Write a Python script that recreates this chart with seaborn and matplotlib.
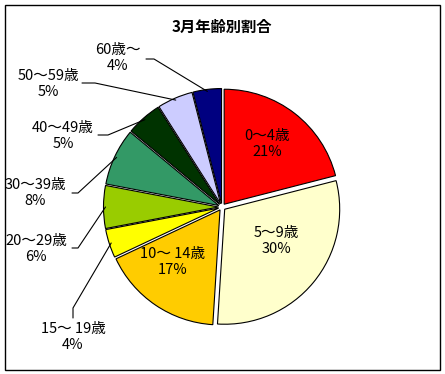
import numpy as np
import matplotlib
matplotlib.use("Agg")
import matplotlib.pyplot as plt
import seaborn as sns
from matplotlib.patches import Rectangle

categories = ["0～4歳", "5～9歳", "10～ 14歳", "15～ 19歳", "20～29歳",
              "30～39歳", "40～49歳", "50～59歳", "60歳～"]
values = [21, 30, 17, 4, 6, 8, 5, 5, 4]
colors = ["#FF0000", "#FFFFCC", "#FFCC00", "#FFFF00", "#99CC00",
          "#339966", "#003300", "#CCCCFF", "#000080"]
title = "3月年齢別割合"

sns.set_theme(style="white")
plt.rcParams['font.family'] = ['Noto Sans CJK JP', 'DejaVu Sans']

W, H = 445, 374
fig = plt.figure(figsize=(W / 100, H / 100), dpi=100)
fig.patch.set_facecolor("white")
ax = fig.add_axes([0, 0, 1, 1])
ax.set_xlim(0, W)
ax.set_ylim(0, H)
ax.axis("off")


def Y(p):
    return H - p


cx, cy, R, EXP = 222, Y(207), 115, 3.5
wedges, _ = ax.pie(values, colors=colors, startangle=90, counterclock=False,
                   center=(cx, cy), radius=R, explode=[EXP] * len(values),
                   wedgeprops=dict(edgecolor="black", linewidth=0.8),
                   frame=False)
ax.set_xlim(0, W)
ax.set_ylim(0, H)
ax.set_aspect("equal")

fs = 10.5
# inside labels (pixel positions of text block centre)
inside_pos = {0: (267, 144), 1: (276, 241), 2: (173, 262)}
# outside labels: text centre, leader polyline start points
outside = {
    3: ((73, 337), [(73, 318), (73, 308)]),
    4: ((36, 249), [(72, 248), (78, 248)]),
    5: ((35, 193), [(72, 193), (78, 193)]),
    6: ((63, 136), [(98, 135), (108, 135)]),
    7: ((48, 84), [(82, 83), (95, 83)]),
    8: ((118, 58), [(146, 59), (154, 59)]),
}

for i, w in enumerate(wedges):
    txt = f"{categories[i]}\n{values[i]}%"
    if i in inside_pos:
        x, y = inside_pos[i]
        ax.text(x, Y(y), txt, ha="center", va="center", fontsize=fs,
                linespacing=1.15, color="black")
    else:
        (x, y), pts = outside[i]
        ax.text(x, Y(y), txt, ha="center", va="center", fontsize=fs,
                linespacing=1.15, color="black")
        ang = np.deg2rad((w.theta1 + w.theta2) / 2)
        ex = cx + (R + EXP - 2) * np.cos(ang)
        ey = cy + (R + EXP - 2) * np.sin(ang)
        xs = [p[0] for p in pts] + [ex]
        ys = [Y(p[1]) for p in pts] + [ey]
        ax.plot(xs, ys, color="black", linewidth=0.8)

ax.text(222, Y(27), title, ha="center", va="center", fontsize=11,
        fontweight="bold", color="black")

ax.add_patch(Rectangle((5, Y(370)), 435, 365, fill=False, edgecolor="black",
                       linewidth=1.0, clip_on=False))

fig.savefig("out.png", dpi=100, facecolor="white")
